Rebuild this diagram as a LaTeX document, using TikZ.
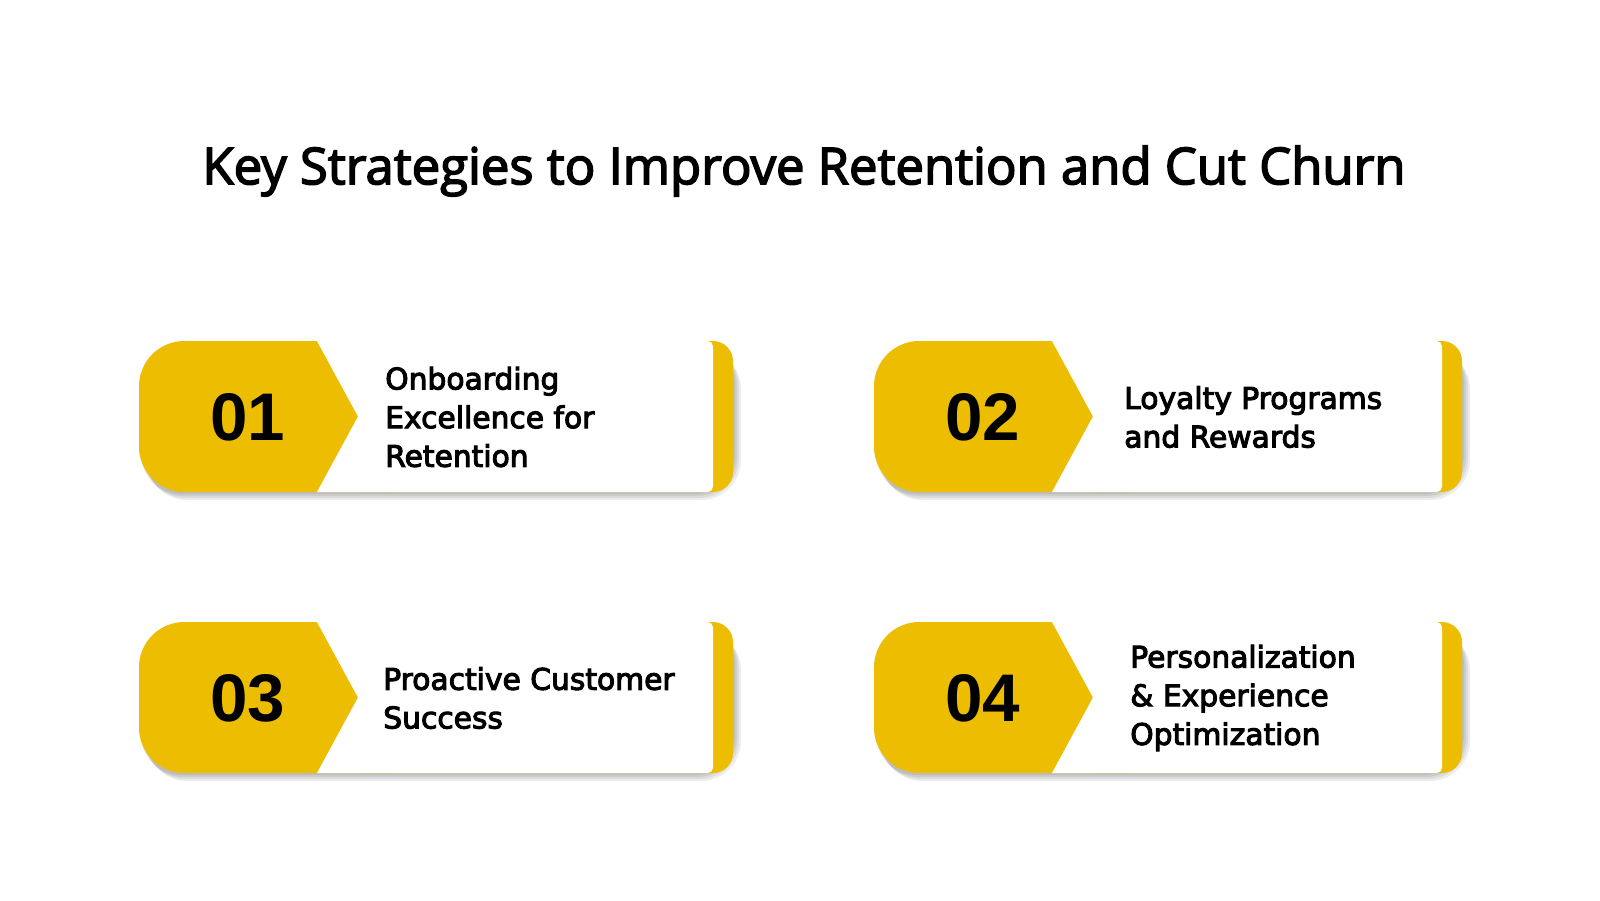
\documentclass[tikz,border=0pt]{standalone}
\usepackage{fontspec}
\setmainfont{Liberation Sans}
\newfontfamily\titlefont{Open Sans}[FakeBold=3]
\newfontfamily\cardfont{DejaVu Sans}[FakeBold=3.5]
\definecolor{cardyellow}{RGB}{236,189,0}
\tikzset{
  numtext/.style={font=\bfseries\fontsize{50.5}{51}\selectfont, inner sep=0pt},
  cardtext/.style={font=\cardfont\fontsize{22.3}{29}\selectfont, align=left, anchor=west, inner sep=0pt},
  titletext/.style={font=\titlefont\fontsize{38.1}{44}\selectfont}
}

\begin{document}
\begin{tikzpicture}[x=0.75pt,y=-0.75pt]
\useasboundingbox (0,0) rectangle (1600,900);
\fill[white] (0,0) rectangle (1600,900);
\node[titletext] (title) at (804,171) {Key Strategies to Improve Retention and Cut Churn};
% the four cards
\foreach \n/\L/\T/\W/\dx/\txt in {01/139/341/594/246/{Onboarding\\Excellence for\\Retention},
  02/874/341/588/250/{Loyalty Programs\\and Rewards},
  03/139/622/594/244/{Proactive Customer\\Success},
  04/874/622/588/256/{Personalization\\\& Experience\\Optimization}} {
  % soft shadow
  \foreach \s in {2,4,6,8} {
    \fill[black, opacity=0.07, rounded corners=30pt] (\L+\s,\T+\s) rectangle (\L+\W+\s,\T+151+\s);
  }
  \fill[cardyellow, rounded corners=34pt] (\L,\T) rectangle (\L+300,\T+151);
  \fill[cardyellow, rounded corners=15pt] (\L+200,\T) rectangle (\L+\W,\T+151);
  \fill[white] (\L+178,\T) -- (\L+219,\T+75.5) -- (\L+178,\T+151)
    [rounded corners=4pt] -- (\L+\W-20,\T+151) -- (\L+\W-20,\T) [sharp corners] -- cycle;
  \node[numtext] (num\n) at (\L+109,\T+76) {\n};
  \node[cardtext] (txt\n) at (\L+\dx,\T+76) {\txt};
}
\end{tikzpicture}
\end{document}
